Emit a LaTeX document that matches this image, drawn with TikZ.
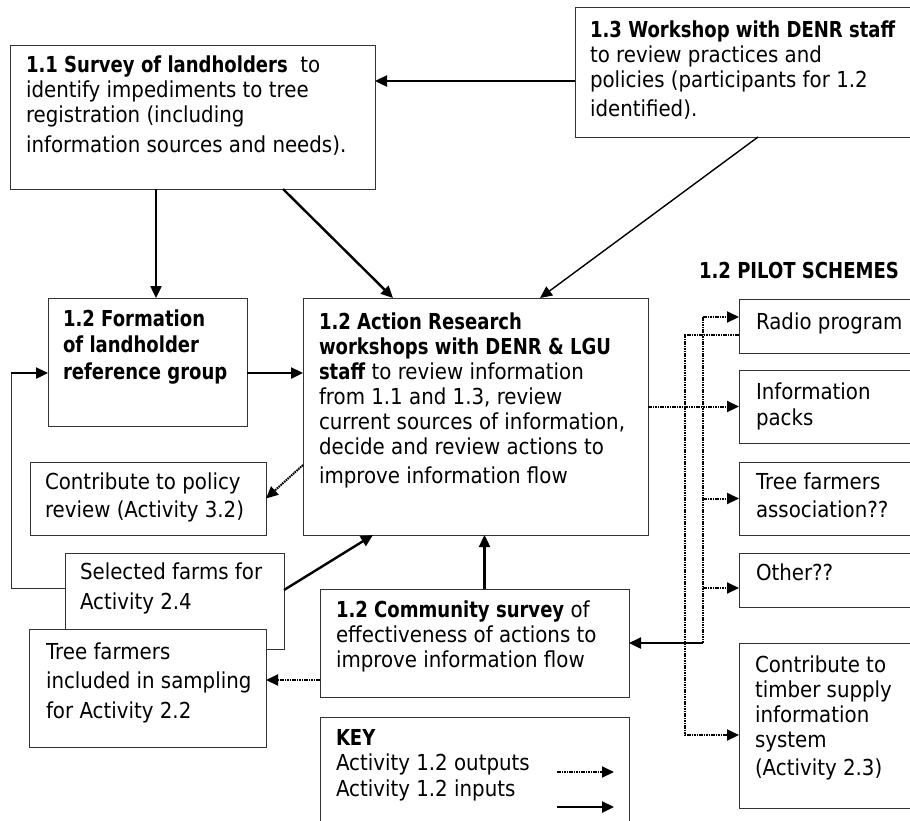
\documentclass[tikz,border=0pt]{standalone}
\usepackage{fontspec}
\setmainfont{DejaVu Sans}[FakeStretch=0.9,BoldFeatures={FakeStretch=0.82}]
\usetikzlibrary{arrows.meta,calc}
\tikzset{
 box/.style={draw=black!80,line width=0.9pt,fill=white,inner sep=0pt,outer sep=0pt,anchor=north west},
 txt/.style={inner sep=0pt,outer sep=0pt,anchor=north west,align=left},
 inp/.style={line width=2.4pt,draw=black,-{Triangle[length=12pt,width=11pt]}},
 inpline/.style={line width=0.9pt,draw=black!80},
 outp/.style={line width=2pt,draw=black,dash pattern=on 1.6pt off 0.8pt,-{Triangle[length=12pt,width=11pt]}},
 outpline/.style={line width=2pt,draw=black,dash pattern=on 1.6pt off 0.8pt},
}
\newcommand\firstl{\rule{0pt}{17pt}}
\newcommand\bx[5]{\node[box,minimum width=#4pt,minimum height=#5pt] (#1) at (#2,#3) {};}
\newcommand\fs[1]{\fontsize{22}{#1}\selectfont}
\begin{document}
\begin{tikzpicture}[x=1pt,y=-1pt]
\useasboundingbox (0,0) rectangle (910,820);
% boxes
\bx{s11}{10}{45}{365}{144}
\bx{w13}{575}{7}{340}{130}
\bx{fm}{48}{298}{199}{128}
\bx{ar}{303}{298}{345}{237}
\bx{cp}{30}{462}{236}{73}
\bx{sel}{65}{553}{219}{96}
\bx{tf}{29}{629}{237}{118}
\bx{cs}{320}{589}{309}{108}
\bx{key}{320}{717}{309}{120}
\bx{rad}{739}{299}{180}{54}
\bx{inf}{739}{370}{180}{73}
\bx{tfa}{739}{462}{180}{73}
\bx{oth}{739}{553}{180}{54}
\bx{tim}{739}{643}{180}{165}
% texts
\node[txt,font=\fs{25}] (t11) at (26,55) {\firstl\textbf{1.1 Survey of landholders}\ \ to\\ identify impediments to tree\\ registration (including\\[5pt] information sources and needs).};
\node[txt,font=\fs{25}] (t13) at (590,20) {\firstl\textbf{1.3 Workshop with DENR staff}\\ to review practices and\\ policies (participants for 1.2\\[4pt] identified).};
\node[txt,font=\fs{26.5}] (tfm) at (63,309) {\firstl\textbf{1.2 Formation}\\ \textbf{of landholder}\\ \textbf{reference group}};
\node[txt,font=\fs{25}] (tar) at (319,312) {\firstl\textbf{1.2 Action Research}\\ \textbf{workshops with DENR \& LGU}\\ \textbf{staff} to review information\\ from 1.1 and 1.3, review\\ current sources of information,\\ decide and review actions to\\[4pt] improve information flow};
\node[txt,font=\fs{28}] (tcp) at (45,472) {\firstl Contribute to policy\\ review (Activity 3.2)};
\node[txt,font=\fs{30}] (tsel) at (80,562) {\firstl Selected farms for\\ Activity 2.4};
\node[txt,font=\fs{29.5}] (ttf) at (46,642) {\firstl Tree farmers\\ included in sampling\\ for Activity 2.2};
\node[txt,font=\fs{25}] (tcs) at (336,600) {\firstl\textbf{1.2 Community survey} of\\ effectiveness of actions to\\ improve information flow};
\node[txt,font=\fs{25.5}] (tkey) at (336,728) {\firstl\textbf{KEY}\\ Activity 1.2 outputs\\ Activity 1.2 inputs};
\node[txt,font=\fs{25}] (tpil) at (699,261) {\firstl\textbf{1.2 PILOT SCHEMES}};
\node[txt,font=\fs{25}] (trad) at (756,312) {\firstl Radio program};
\node[txt,font=\fs{26}] (tinf) at (756,382) {\firstl Information\\ packs};
\node[txt,font=\fs{28}] (ttfa) at (756,472) {\firstl Tree farmers\\ association??};
\node[txt,font=\fs{25}] (toth) at (756,563) {\firstl Other??};
\node[txt,font=\fs{25}] (ttim) at (755,655) {\firstl Contribute to\\ timber supply\\ information\\ system\\[3pt] (Activity 2.3)};
% input connectors
\draw[inp] ([yshift=-9pt]w13.west) -- ([yshift=-9pt]w13.west -| s11.east);
\draw[inp] ($(s11.south west)+(146,0)$) -- ($(fm.north west)+(108,0)$);
\draw[inp] ($(s11.south west)+(273,0)$) -- ($(ar.north west)+(90,0)$);
\draw[inp,line width=1.4pt] ($(w13.south west)+(183,0)$) -- ($(ar.north west)+(237,0)$);
\draw[inp] ([yshift=-11pt]fm.east) -- ([yshift=-11pt]fm.east -| ar.west);
\coordinate (lp1) at (11,588);
\coordinate (lp2) at (11,373);
\draw[inpline] ([yshift=13pt]sel.west) -- (lp1) -- (lp2);
\draw[inp] (lp2) -- (lp2 -| fm.west);
\draw[inp] ([yshift=11pt]sel.east) -- ($(ar.south west)+(70,0)$);
\draw[inp] ([xshift=10pt]cs.north) -- ([xshift=10pt]cs.north |- ar.south);
\coordinate (bA) at (703,317);
\coordinate (bB) at (703,643);
\draw[inp] (bB) -- (bB -| cs.east);
% output connectors
\draw[outpline] (bA) -- (bB);
\draw[outp] (bA) -- (bA -| rad.west);
\draw[outp] (ar.east |- inf.west) -- (inf.west);
\draw[outp] (bA |- tfa.west) -- (tfa.west);
\coordinate (oA) at ([yshift=-8pt]oth.west);
\draw[outp] (bA |- oA) -- (oA);
\coordinate (rB) at ([yshift=-9pt]rad.west);
\coordinate (cA) at (685,335);
\coordinate (cB) at (685,735);
\draw[outp] (rB) -- (cA) -- (cB) -- (cB -| tim.west);
\draw[outp] ($(ar.north west)+(0,167)$) -- (cp.east);
\draw[outp] ([yshift=-37pt]cs.west) -- ([yshift=-37pt]cs.west -| tf.east);
% key arrows
\coordinate (k1) at (557,772);
\coordinate (k2) at (614,772);
\coordinate (k3) at (557,807);
\coordinate (k4) at (614,807);
\draw[outp] (k1) -- (k2);
\draw[inp] (k3) -- (k4);
\end{tikzpicture}
\end{document}
